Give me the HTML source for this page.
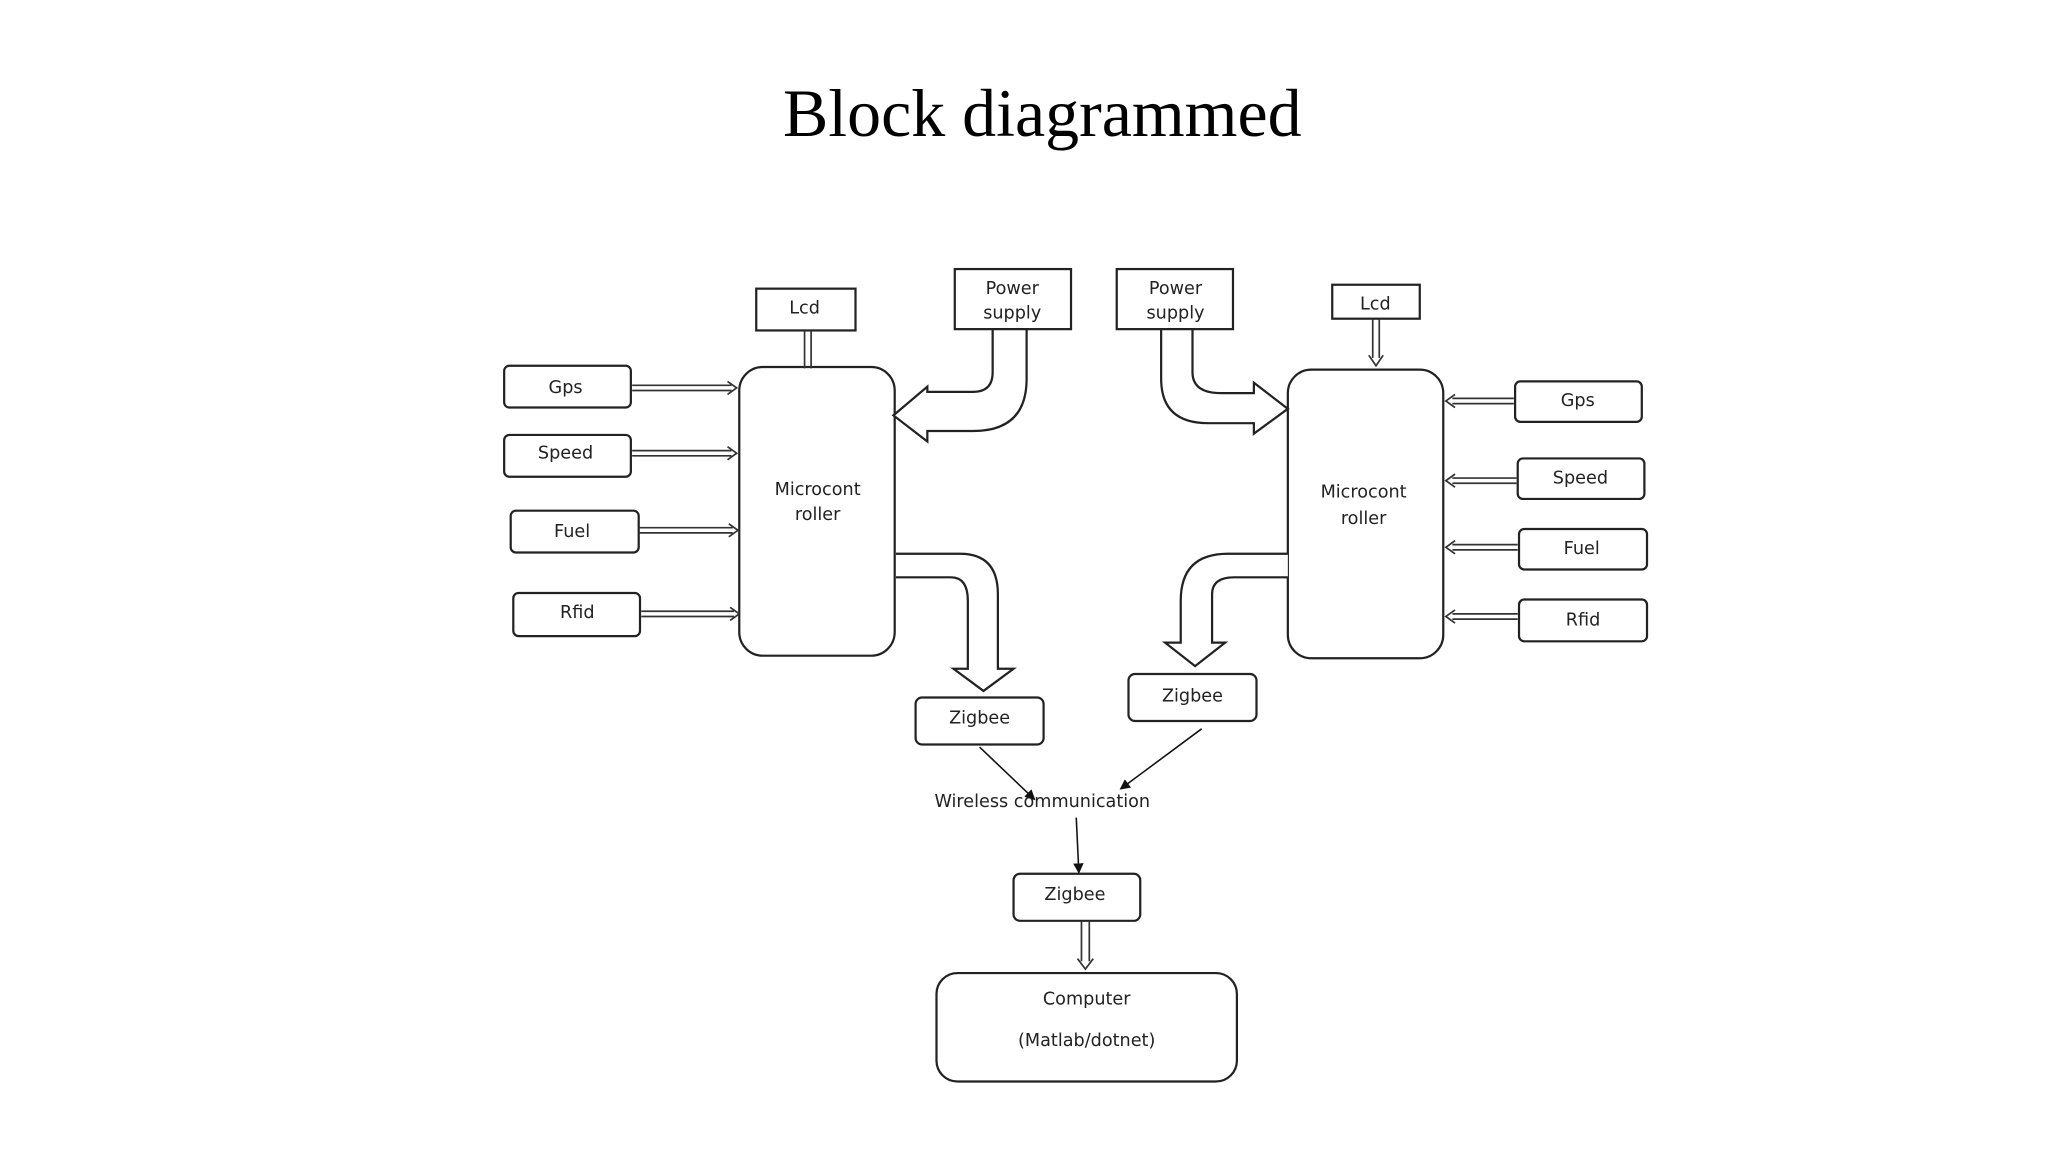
<!DOCTYPE html>
<html><head><meta charset="utf-8"><style>
html,body{margin:0;padding:0;background:#fff;width:2048px;height:1152px;overflow:hidden}
svg{display:block}
text{font-family:"DejaVu Sans","Liberation Sans",sans-serif;font-size:13.5px;fill:#222;text-anchor:middle}
</style></head><body>
<svg width="2048" height="1152" viewBox="0 0 1568 882" xmlns="http://www.w3.org/2000/svg">
<defs><marker id="ah" markerWidth="8" markerHeight="8" refX="7" refY="4" orient="auto" markerUnits="userSpaceOnUse"><path d="M0,0 L8,4 L0,8 Z" fill="#111"/></marker></defs>
<text x="798" y="104" style="font-family:'Liberation Serif',serif;font-size:52px;fill:#000">Block diagrammed</text>
<g fill="#fff" stroke="#222" stroke-width="1.7">
<rect x="386" y="280" width="97" height="32" rx="4"/>
<rect x="386" y="333" width="97" height="32" rx="4"/>
<rect x="391" y="391" width="98" height="32" rx="4"/>
<rect x="393" y="454" width="97" height="33" rx="4"/>
<rect x="579" y="221" width="76" height="32"/>
<rect x="731" y="206" width="89" height="46"/>
<rect x="566" y="281" width="119" height="221" rx="18"/>
<path d="M760,252 L760,285 Q760,300 745,300 L710,300 L710,296 L684,318 L710,338 L710,330 L745,330 Q786,330 786,290 L786,252 Z"/>
<path d="M686,424 L735,424 Q764,424 764,455 L764,512 L776,512 L753,529 L730,512 L741,512 L741,460 Q741,442 728,442 L686,442"/>
<rect x="701" y="534" width="98" height="36" rx="5"/>
<rect x="855" y="206" width="89" height="46"/>
<rect x="1020" y="218" width="67" height="26"/>
<rect x="986" y="283" width="119" height="221" rx="18"/>
<rect x="1160" y="292" width="97" height="31" rx="4"/>
<rect x="1162" y="351" width="97" height="31" rx="4"/>
<rect x="1163" y="405" width="98" height="31" rx="4"/>
<rect x="1163" y="459" width="98" height="32" rx="4"/>
<path d="M889,252 L889,290 Q889,324 925,324 L960,324 L960,332 L986,313 L960,293 L960,301 L935,301 Q913,301 913,285 L913,252 Z"/>
<path d="M986,424 L940,424 Q904,424 904,460 L904,492 L892,492 L915,510 L938,492 L928,492 L928,455 Q928,442 945,442 L986,442"/>
<rect x="864" y="516" width="98" height="36" rx="5"/>
<rect x="776" y="669" width="97" height="36" rx="5"/>
<rect x="717" y="745" width="230" height="83" rx="16"/>
</g>
<g fill="none" stroke="#333" stroke-width="1.3">
<path d="M484,295 H560 M484,299 H560 M557,292 L564,297 L557,302"/>
<path d="M484,345 H560 M484,349 H560 M557,342 L564,347 L557,352"/>
<path d="M489,404 H561 M489,408 H561 M558,401 L565,406 L558,411"/>
<path d="M491,468 H562 M491,472 H562 M559,465 L566,470 L559,475"/>
<path d="M616,253 V282 M621,253 V282"/>
<path d="M1159,305 H1112 M1159,309 H1112 M1114,302 L1107,307 L1114,312"/>
<path d="M1161,366 H1112 M1161,370 H1112 M1114,363 L1107,368 L1114,373"/>
<path d="M1162,417 H1112 M1162,421 H1112 M1114,414 L1107,419 L1114,424"/>
<path d="M1162,470 H1112 M1162,474 H1112 M1114,467 L1107,472 L1114,477"/>
<path d="M1051,244 V274 M1056,244 V274 M1048,272 L1053.5,280 L1059,272"/>
<path d="M828,705 V736 M834,705 V736 M825,734 L831,742 L837,734"/>
</g>
<g stroke="#111" stroke-width="1.2">
<line x1="750" y1="572" x2="792" y2="612" marker-end="url(#ah)"/>
<line x1="920" y1="558" x2="858" y2="604" marker-end="url(#ah)"/>
<line x1="824" y1="626" x2="826" y2="668" marker-end="url(#ah)"/>
</g>
<text x="433" y="301">Gps</text>
<text x="433" y="351">Speed</text>
<text x="438" y="411">Fuel</text>
<text x="442" y="473">Rfid</text>
<text x="616" y="240">Lcd</text>
<text x="775" y="225">Power</text>
<text x="775" y="244">supply</text>
<text x="626" y="379">Microcont</text>
<text x="626" y="398">roller</text>
<text x="750" y="554">Zigbee</text>
<text x="900" y="225">Power</text>
<text x="900" y="244">supply</text>
<text x="1053" y="237">Lcd</text>
<text x="1044" y="381">Microcont</text>
<text x="1044" y="401">roller</text>
<text x="1208" y="311">Gps</text>
<text x="1210" y="370">Speed</text>
<text x="1211" y="424">Fuel</text>
<text x="1212" y="479">Rfid</text>
<text x="913" y="537">Zigbee</text>
<text x="798" y="618">Wireless communication</text>
<text x="823" y="689">Zigbee</text>
<text x="832" y="769">Computer</text>
<text x="832" y="801">(Matlab/dotnet)</text>
</svg>
</body></html>
